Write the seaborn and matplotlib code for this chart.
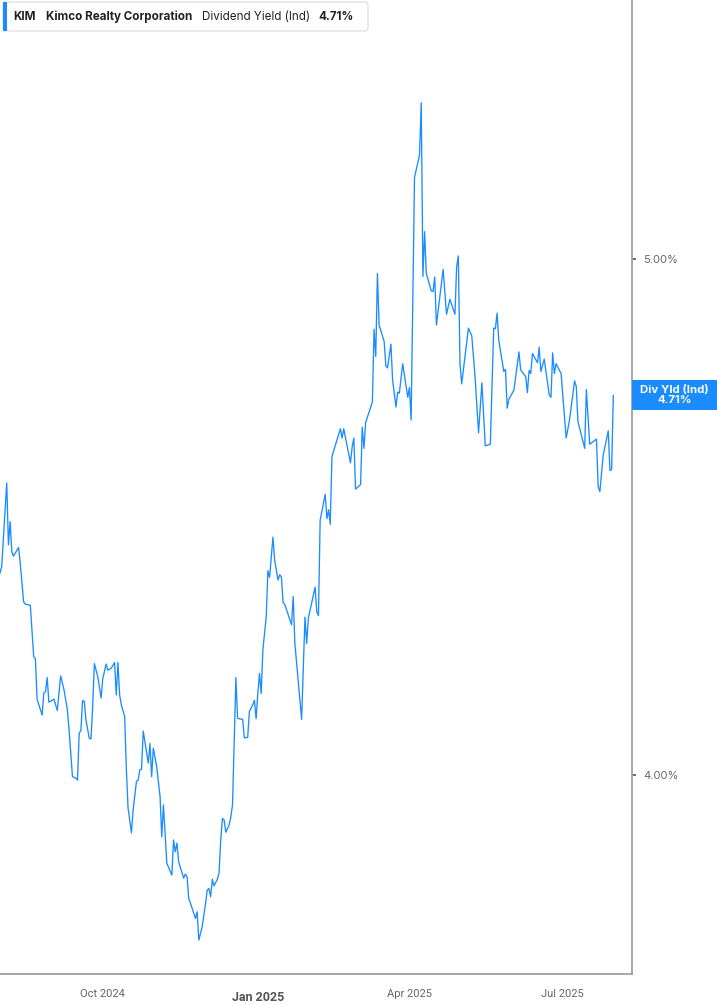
import pandas as pd
import numpy as np
import matplotlib
matplotlib.use("Agg")
import matplotlib.pyplot as plt
import matplotlib.dates as mdates
from matplotlib.patches import Rectangle, FancyBboxPatch
from matplotlib.transforms import blended_transform_factory, ScaledTranslation
import seaborn as sns

# ---------------- data ----------------
dates = (
    # Aug 2024
    ["2024-08-01", "2024-08-02", "2024-08-05", "2024-08-06", "2024-08-07", "2024-08-08", "2024-08-09",
     "2024-08-12", "2024-08-13", "2024-08-15", "2024-08-16", "2024-08-19", "2024-08-21", "2024-08-22",
     "2024-08-23", "2024-08-26", "2024-08-27", "2024-08-28", "2024-08-29", "2024-08-30"]
    # Sep 2024
    + ["2024-09-02", "2024-09-04", "2024-09-06", "2024-09-08", "2024-09-10", "2024-09-11", "2024-09-13",
       "2024-09-15", "2024-09-16", "2024-09-17", "2024-09-18", "2024-09-19", "2024-09-20", "2024-09-21",
       "2024-09-23", "2024-09-24", "2024-09-25", "2024-09-26", "2024-09-28", "2024-09-30"]
    # Oct 2024
    + ["2024-10-01", "2024-10-03", "2024-10-04", "2024-10-06", "2024-10-08", "2024-10-09", "2024-10-10",
       "2024-10-11", "2024-10-12", "2024-10-14", "2024-10-15", "2024-10-16", "2024-10-18", "2024-10-19",
       "2024-10-21", "2024-10-22", "2024-10-23", "2024-10-24", "2024-10-25", "2024-10-28", "2024-10-29",
       "2024-10-30", "2024-10-31"]
    # Nov 2024
    + ["2024-11-02", "2024-11-04", "2024-11-05", "2024-11-06", "2024-11-08", "2024-11-11", "2024-11-12",
       "2024-11-13", "2024-11-14", "2024-11-15", "2024-11-18", "2024-11-19", "2024-11-20", "2024-11-21",
       "2024-11-23", "2024-11-25", "2024-11-26", "2024-11-27", "2024-11-29"]
    # Dec 2024
    + ["2024-12-01", "2024-12-02", "2024-12-03", "2024-12-04", "2024-12-05", "2024-12-06", "2024-12-08",
       "2024-12-09", "2024-12-10", "2024-12-11", "2024-12-12", "2024-12-13", "2024-12-15", "2024-12-16",
       "2024-12-17", "2024-12-18", "2024-12-19", "2024-12-20", "2024-12-21", "2024-12-23", "2024-12-24",
       "2024-12-26", "2024-12-27", "2024-12-29", "2024-12-30", "2024-12-31"]
    # Jan 2025
    + ["2025-01-01", "2025-01-02", "2025-01-03", "2025-01-04", "2025-01-06", "2025-01-07", "2025-01-08",
       "2025-01-10", "2025-01-11", "2025-01-13", "2025-01-14", "2025-01-15", "2025-01-16", "2025-01-17",
       "2025-01-21", "2025-01-22", "2025-01-23", "2025-01-27", "2025-01-29", "2025-01-30", "2025-01-31"]
    # Feb 2025
    + ["2025-02-04", "2025-02-05", "2025-02-06", "2025-02-07", "2025-02-10", "2025-02-11", "2025-02-12",
       "2025-02-13", "2025-02-14", "2025-02-19", "2025-02-20", "2025-02-21", "2025-02-25", "2025-02-26",
       "2025-02-27", "2025-02-28"]
    # Mar 2025
    + ["2025-03-03", "2025-03-04", "2025-03-05", "2025-03-06", "2025-03-10", "2025-03-11", "2025-03-12",
       "2025-03-13", "2025-03-14", "2025-03-17", "2025-03-18", "2025-03-19", "2025-03-21", "2025-03-22",
       "2025-03-24", "2025-03-25", "2025-03-26", "2025-03-28", "2025-03-31"]
    # Apr 2025
    + ["2025-04-01", "2025-04-02", "2025-04-04", "2025-04-07", "2025-04-08", "2025-04-09", "2025-04-10",
       "2025-04-11", "2025-04-14", "2025-04-15", "2025-04-16", "2025-04-17", "2025-04-21", "2025-04-23",
       "2025-04-25", "2025-04-28", "2025-04-29", "2025-04-30"]
    # May 2025
    + ["2025-05-01", "2025-05-02", "2025-05-06", "2025-05-08", "2025-05-10", "2025-05-12", "2025-05-14",
       "2025-05-16", "2025-05-19", "2025-05-21", "2025-05-22", "2025-05-23", "2025-05-24", "2025-05-27",
       "2025-05-28", "2025-05-29", "2025-05-30"]
    # Jun 2025
    + ["2025-06-02", "2025-06-05", "2025-06-06", "2025-06-09", "2025-06-10", "2025-06-11", "2025-06-12",
       "2025-06-13", "2025-06-16", "2025-06-17", "2025-06-18", "2025-06-20", "2025-06-23", "2025-06-24",
       "2025-06-25", "2025-06-26", "2025-06-27", "2025-06-30"]
    # Jul 2025
    + ["2025-07-03", "2025-07-05", "2025-07-08", "2025-07-09", "2025-07-10", "2025-07-14", "2025-07-15",
       "2025-07-17", "2025-07-19", "2025-07-21", "2025-07-22", "2025-07-23", "2025-07-25", "2025-07-28",
       "2025-07-29", "2025-07-30", "2025-07-31"]
)

div_yield = (
    [4.391, 4.404, 4.566, 4.446, 4.491, 4.433, 4.424, 4.441, 4.411, 4.336, 4.331, 4.329, 4.229, 4.226,
     4.147, 4.116, 4.159, 4.161, 4.189, 4.141]
    + [4.147, 4.125, 4.192, 4.165, 4.126, 4.087, 3.997, 3.994, 3.990, 4.081, 4.086, 4.144, 4.143, 4.107,
       4.071, 4.070, 4.132, 4.216, 4.191, 4.149]
    + [4.187, 4.215, 4.203, 4.207, 4.218, 4.155, 4.218, 4.155, 4.136, 4.113, 4.010, 3.936, 3.888, 3.932,
       3.988, 3.990, 4.010, 4.011, 4.085, 4.023, 4.061, 3.997, 4.052]
    + [4.016, 3.958, 3.880, 3.942, 3.829, 3.806, 3.874, 3.851, 3.868, 3.832, 3.800, 3.808, 3.803, 3.761,
       3.742, 3.722, 3.735, 3.680, 3.706]
    + [3.751, 3.777, 3.780, 3.764, 3.798, 3.785, 3.798, 3.810, 3.874, 3.916, 3.913, 3.889, 3.903, 3.919,
       3.942, 4.068, 4.189, 4.110, 4.109, 4.108, 4.072, 4.073, 4.123, 4.136, 4.145, 4.109]
    + [4.158, 4.197, 4.158, 4.242, 4.307, 4.396, 4.383, 4.461, 4.417, 4.378, 4.388, 4.384, 4.334, 4.331,
       4.291, 4.346, 4.255, 4.108, 4.306, 4.255, 4.304]
    + [4.364, 4.316, 4.309, 4.494, 4.544, 4.497, 4.514, 4.486, 4.617, 4.671, 4.653, 4.671, 4.605, 4.636,
       4.653, 4.554]
    + [4.563, 4.674, 4.633, 4.683, 4.723, 4.864, 4.811, 4.972, 4.872, 4.840, 4.793, 4.789, 4.835, 4.766,
       4.713, 4.742, 4.740, 4.797, 4.732]
    + [4.751, 4.688, 5.158, 5.202, 5.303, 4.966, 5.053, 4.972, 4.938, 4.937, 4.965, 4.872, 4.980, 4.893,
       4.922, 4.893, 4.985, 5.006]
    + [4.797, 4.758, 4.866, 4.851, 4.769, 4.663, 4.760, 4.638, 4.641, 4.866, 4.865, 4.895, 4.843, 4.782,
       4.786, 4.711, 4.728]
    + [4.746, 4.820, 4.785, 4.772, 4.741, 4.784, 4.778, 4.817, 4.799, 4.829, 4.782, 4.806, 4.736, 4.732,
       4.818, 4.778, 4.797, 4.778]
    + [4.653, 4.688, 4.764, 4.753, 4.685, 4.633, 4.747, 4.641, 4.646, 4.651, 4.559, 4.549, 4.620, 4.667,
       4.590, 4.592, 4.736]
)

x_ticks = ["2024-10-01", "2025-01-01", "2025-04-01", "2025-07-01"]
x_tick_labels = ["Oct 2024", "Jan 2025", "Apr 2025", "Jul 2025"]
y_ticks = [4.0, 5.0]
y_tick_labels = ["4.00%", "5.00%"]
ticker = "KIM"
company = "Kimco Realty Corporation"
metric = "Dividend Yield (Ind)"
current_label = "4.71%"
end_tag = "Div Yld (Ind)"

# ---------------- styling ----------------
sns.set_style("white")
plt.rcParams["font.family"] = ["Inter", "DejaVu Sans"]

LINE = "#1a8cff"
GRAY_TXT = "#666666"
SPINE = "#a0a0a0"

df = pd.DataFrame({"date": pd.to_datetime(dates), "value": div_yield})

W, H = 717, 1005
fig = plt.figure(figsize=(W / 100, H / 100), dpi=100)
ax = fig.add_axes([0, 31 / H, 632 / W, 974 / H])

sns.lineplot(data=df, x="date", y="value", ax=ax, color=LINE, linewidth=0.95)

ax.set_xlim(pd.Timestamp("2024-08-01"), pd.Timestamp("2025-08-11 02:00"))
ax.set_ylim(3.6143, 5.502)
ax.set_xlabel("")
ax.set_ylabel("")

# spines
for s in ["top", "left"]:
    ax.spines[s].set_visible(False)
for s in ["right", "bottom"]:
    ax.spines[s].set_visible(True)
    ax.spines[s].set_color(SPINE)
    ax.spines[s].set_linewidth(1.3)

# x ticks
ax.set_xticks(pd.to_datetime(x_ticks))
ax.set_xticklabels(x_tick_labels)
ax.tick_params(axis="x", direction="out", length=5, width=1, color=SPINE, pad=6,
               labelsize=8, labelcolor=GRAY_TXT)
for lab in ax.get_xticklabels():
    lab.set_family(["Roboto", "DejaVu Sans"])
    if lab.get_text().startswith("Jan"):
        lab.set_fontweight("bold")
        lab.set_color("#555555")
        lab.set_fontsize(9)
        lab.set_transform(lab.get_transform() + ScaledTranslation(0, -2 / 100, fig.dpi_scale_trans))

# y ticks on the right
ax.yaxis.tick_right()
ax.set_yticks(y_ticks)
ax.set_yticklabels(y_tick_labels)
ax.tick_params(axis="y", direction="out", length=3, width=1.2, color="#555555", pad=5,
               labelsize=8, labelcolor=GRAY_TXT)
for lab in ax.get_yticklabels():
    lab.set_family(["Inter", "DejaVu Sans"])
ax.grid(False)

# end-value tag on the right
last_val = df["value"].iloc[-1]
btr = blended_transform_factory(ax.transAxes, ax.transData)
box_h = 30 / 516  # pixels -> data units (516 px per 1%)
ax.add_patch(Rectangle((1.0, last_val - box_h / 2), (W - 632) / 632, box_h,
                       transform=btr, facecolor=LINE, edgecolor="none", clip_on=False, zorder=5))
ax.text(1.0 + (W - 632) / 632 / 2, last_val, f"{end_tag}\n{current_label}", transform=btr,
        ha="center", va="center", color="white", fontsize=8.2, fontweight="bold",
        linespacing=1.0, zorder=6, clip_on=False)

# header legend box
fig.patches.append(FancyBboxPatch((3 / W, 1 - 31 / H), 365 / W, 29 / H,
                                  boxstyle="round,pad=0,rounding_size=0.004",
                                  transform=fig.transFigure, facecolor="white",
                                  edgecolor="#e3e3e3", linewidth=1.0, zorder=10))
fig.patches.append(Rectangle((3 / W, 1 - 31 / H), 4 / W, 29 / H, transform=fig.transFigure,
                             facecolor=LINE, edgecolor="none", zorder=11))
ty = 1 - 16.5 / H
HF = 8.4
fig.text(13 / W, ty, ticker, ha="left", va="center", fontsize=HF, fontweight="bold",
         color="#222222", zorder=12)
fig.text(46 / W, ty, company, ha="left", va="center", fontsize=HF, fontweight="bold",
         color="#222222", zorder=12)
fig.text(202 / W, ty, metric, ha="left", va="center", fontsize=HF, color="#222222", zorder=12)
fig.text(318 / W, ty, current_label, ha="left", va="center", fontsize=HF, fontweight="bold",
         color="#222222", zorder=12)

fig.savefig("out.png", dpi=100)
